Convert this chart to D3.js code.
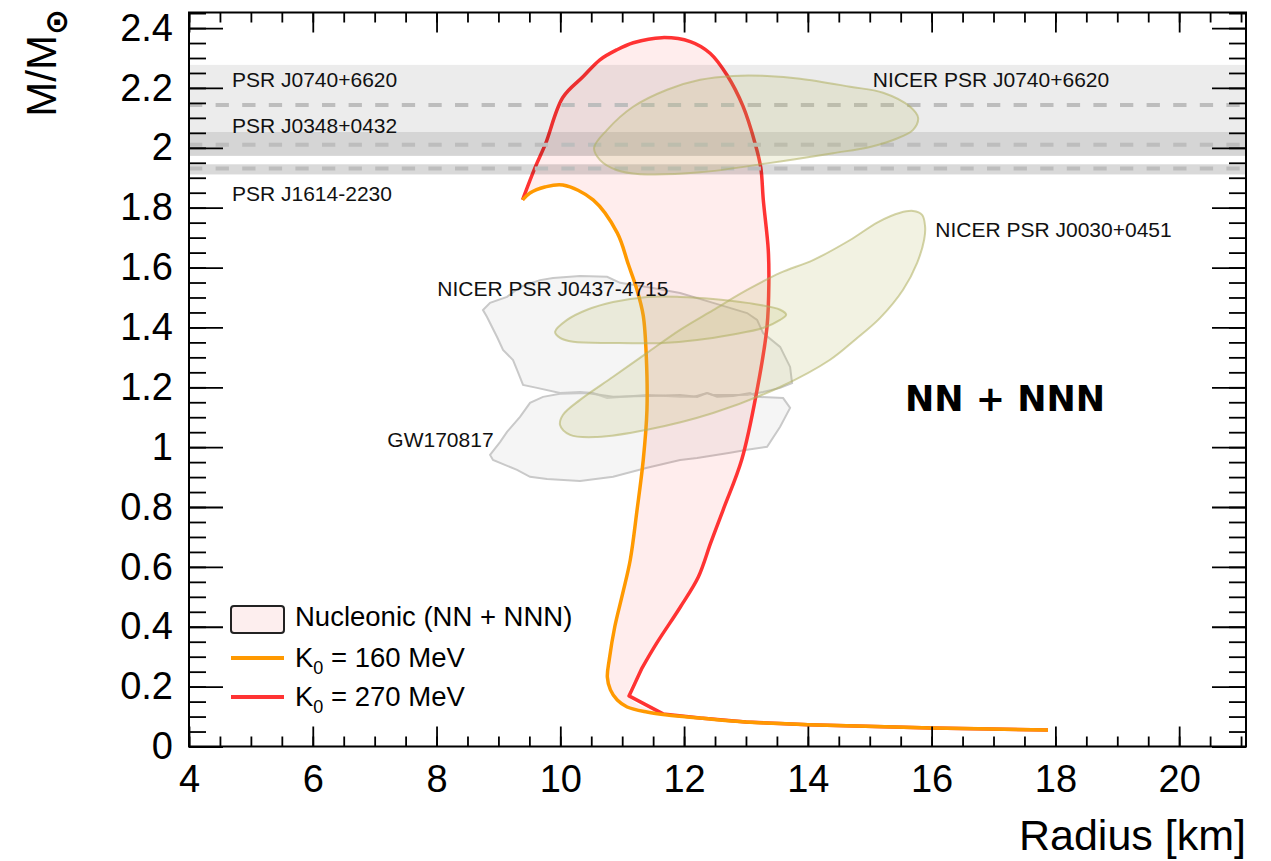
<!DOCTYPE html>
<html><head><meta charset="utf-8">
<script src="https://cdn.jsdelivr.net/npm/d3@7"></script>
<style>body{margin:0;background:#fff}</style>
</head><body>
<svg id="c" width="1271" height="861"></svg>
<script>
// ---------- DATA ----------
const xTicks = [4, 6, 8, 10, 12, 14, 16, 18, 20];
const yTicks = [0, 0.2, 0.4, 0.6, 0.8, 1, 1.2, 1.4, 1.6, 1.8, 2, 2.2, 2.4];
// Mass-radius curves [R km, M/Msun]
const k160 = [[17.88,0.055],[16.0,0.062],[14.0,0.073],[13.0,0.082],[12.26,0.095],[11.73,0.105],[11.40,0.115],[11.08,0.132],[10.92,0.155],[10.81,0.189],[10.76,0.232],[10.79,0.289],[10.88,0.40],[11.01,0.513],[11.13,0.623],[11.24,0.79],[11.34,0.957],[11.40,1.124],[11.39,1.30],[11.34,1.44],[11.24,1.525],[11.10,1.61],[10.92,1.716],[10.53,1.826],[10.04,1.876],[9.75,1.869],[9.51,1.849],[9.39,1.826]];
const k270 = [[17.88,0.055],[16.0,0.062],[14.0,0.073],[13.0,0.082],[12.26,0.095],[11.66,0.109],[11.11,0.169],[11.32,0.262],[11.56,0.346],[11.94,0.466],[12.23,0.566],[12.43,0.68],[12.63,0.79],[12.93,0.957],[13.17,1.181],[13.34,1.402],[13.37,1.55],[13.36,1.66],[13.28,1.826],[13.24,1.933],[13.15,2.013],[12.95,2.14],[12.69,2.244],[12.42,2.316],[12.10,2.355],[11.64,2.368],[11.18,2.351],[10.91,2.327],[10.64,2.294],[10.37,2.238],[10.04,2.168],[9.76,2.013],[9.59,1.933],[9.39,1.826]];
// Pulsar mass bands [lo, center, hi]
const bandNames = ["PSR J0740+6620", "PSR J0348+0432", "PSR J1614-2230"];
const bandLo = [2.053, 1.973, 1.911];
const bandMid = [2.143, 2.01, 1.931];
const bandHi = [2.277, 2.053, 1.945];
// Observational contours [R km, M/Msun]
const nicerJ0740 = [[10.545,2.000],[10.642,1.959],[10.917,1.925],[11.289,1.912],[12.259,1.918],[13.342,1.948],[14.408,1.982],[15.006,2.003],[15.378,2.026],[15.701,2.060],[15.782,2.100],[15.653,2.137],[15.216,2.184],[14.683,2.204],[13.875,2.231],[13.342,2.240],[12.792,2.240],[12.259,2.227],[11.725,2.194],[11.176,2.137],[10.756,2.060]];
const nicerJ0030 = [[15.491,1.783],[15.701,1.789],[15.846,1.776],[15.895,1.736],[15.879,1.693],[15.766,1.616],[15.539,1.526],[15.168,1.432],[14.764,1.359],[14.360,1.292],[13.552,1.201],[12.469,1.114],[11.402,1.058],[10.594,1.034],[10.158,1.041],[9.996,1.074],[10.044,1.108],[10.319,1.158],[10.853,1.235],[11.402,1.315],[11.935,1.392],[12.469,1.458],[13.018,1.525],[13.552,1.582],[14.085,1.625],[14.683,1.692],[15.135,1.752]];
const nicerJ0437 = [[9.915,1.385],[10.109,1.425],[10.432,1.459],[10.853,1.485],[11.402,1.502],[11.935,1.502],[12.469,1.495],[13.018,1.482],[13.552,1.459],[13.649,1.442],[13.552,1.425],[13.277,1.398],[12.743,1.375],[12.210,1.358],[11.661,1.348],[10.853,1.348],[10.206,1.352],[9.996,1.365]];
const gwUpper = [[8.751,1.458],[8.865,1.482],[9.139,1.502],[9.349,1.535],[9.673,1.558],[9.883,1.565],[10.319,1.572],[10.756,1.569],[10.966,1.549],[11.402,1.535],[11.935,1.515],[12.469,1.482],[13.018,1.448],[13.180,1.425],[13.277,1.381],[13.552,1.335],[13.713,1.268],[13.745,1.214],[13.552,1.198],[13.277,1.184],[13.018,1.174],[12.469,1.174],[12.372,1.181],[12.145,1.168],[11.935,1.168],[11.402,1.174],[10.756,1.164],[10.529,1.181],[10.319,1.184],[9.996,1.181],[9.624,1.198],[9.398,1.208],[9.301,1.258],[9.236,1.291],[9.075,1.325],[8.978,1.368],[8.816,1.435]];
const gwLower = [[9.721,1.168],[9.996,1.178],[10.432,1.181],[10.853,1.168],[11.402,1.171],[11.935,1.174],[12.210,1.168],[12.372,1.181],[12.534,1.168],[12.792,1.171],[13.067,1.181],[13.180,1.168],[13.600,1.164],[13.713,1.131],[13.552,1.068],[13.341,1.001],[13.018,0.991],[12.743,0.981],[12.210,0.964],[11.935,0.957],[11.661,0.944],[11.402,0.931],[10.853,0.901],[10.319,0.887],[9.786,0.894],[9.511,0.901],[9.301,0.924],[8.913,0.957],[8.865,0.974],[9.026,1.017],[9.139,1.051],[9.349,1.101],[9.511,1.148]];
// Text labels [text, R, M]
const contourLabels = [["NICER PSR J0740+6620",15.05,2.2025],["NICER PSR J0030+0451",16.06,1.701],["NICER PSR J0437-4715",8.013,1.505],["GW170817",7.205,1.002]];
const legendLabels = ["Nucleonic (NN + NNN)", "160", "270"];

// ---------- CHART ----------
const svg = d3.select("#c");
const FONT = "'Liberation Sans', Arial, Helvetica, sans-serif";
const L = 189, R = 1246, T = 12.5, B = 746.5;
const x = d3.scaleLinear().domain([4, 21.08]).range([L, R]);
const y = d3.scaleLinear().domain([0, 2.452]).range([B, T]);

const clip = svg.append("defs").append("clipPath").attr("id","pc");
clip.append("rect").attr("x",L).attr("y",T).attr("width",R-L).attr("height",B-T);
const plot = svg.append("g").attr("clip-path","url(#pc)");

const smooth = d3.line().x(d=>x(d[0])).y(d=>y(d[1])).curve(d3.curveCatmullRom.alpha(0.5));
const linear = d3.line().x(d=>x(d[0])).y(d=>y(d[1])).curve(d3.curveLinear);
const closedSmooth = d3.line().x(d=>x(d[0])).y(d=>y(d[1])).curve(d3.curveCatmullRomClosed.alpha(0.5));
const closedLin = d3.line().x(d=>x(d[0])).y(d=>y(d[1])).curve(d3.curveLinearClosed);

// GW170817 gray contours
[gwUpper, gwLower].forEach(c => {
  plot.append("path").attr("d", closedLin(c))
    .attr("fill","rgba(225,225,225,0.35)").attr("stroke","#c9c9c9").attr("stroke-width",2);
});

// Pink band between curves
const band = k160.concat(k270.slice().reverse().slice(1));
plot.append("path").attr("d", smooth(band) + "Z")
  .attr("fill","rgba(255,0,0,0.07)").attr("stroke","none");

// curves (red: straight segments through the low-mass kink, smooth above)
const redPath = linear(k270.slice(0, 8)) + smooth(k270.slice(7)).replace(/^M/, "L");
plot.append("path").attr("d", redPath).attr("fill","none")
  .attr("stroke","#ff3333").attr("stroke-width",3.5).attr("stroke-linejoin","round");
plot.append("path").attr("d", smooth(k160)).attr("fill","none")
  .attr("stroke","#ff9900").attr("stroke-width",3.5).attr("stroke-linejoin","round");

// pulsar bands
const bandAlpha = [0.075, 0.165, 0.15];
bandNames.forEach((n,i) => {
  plot.append("rect").attr("x",L).attr("width",R-L)
    .attr("y", y(bandHi[i])).attr("height", y(bandLo[i]) - y(bandHi[i]))
    .attr("fill", `rgba(0,0,0,${bandAlpha[i]})`);
});
bandNames.forEach((n,i) => {
  plot.append("line").attr("x1",L).attr("x2",R).attr("y1",y(bandMid[i])).attr("y2",y(bandMid[i]))
    .attr("stroke","#bdbdbd").attr("stroke-width",4).attr("stroke-dasharray","13.3,13.3");
});

// NICER contours
[nicerJ0740, nicerJ0030, nicerJ0437].forEach(c => {
  plot.append("path").attr("d", closedSmooth(c))
    .attr("fill","rgba(190,190,110,0.2)").attr("stroke","rgba(175,175,95,0.55)").attr("stroke-width",2);
});

// band labels
const bandLabelY = [87.3, 132.7, 200.7];
bandNames.forEach((n,i) => {
  svg.append("text").attr("x",232).attr("y",bandLabelY[i]).text(n)
    .attr("font-family",FONT).attr("font-size",21).attr("fill","#111");
});
contourLabels.forEach(d => {
  svg.append("text").attr("x",x(d[1])).attr("y",y(d[2])).text(d[0])
    .attr("font-family",FONT).attr("font-size",21).attr("fill","#111");
});
svg.append("text").attr("x",905).attr("y",410.5).text("NN + NNN")
  .attr("font-family","'DejaVu Sans', sans-serif").attr("font-weight","bold").attr("font-size",35).attr("fill","#000");

// ---------- AXES ----------
const minorX = d3.range(4, 21.01, 0.5);
const minorY = d3.range(0, 2.451, 0.05);
function styleAxis(g){ g.select(".domain").remove(); g.selectAll("line").attr("stroke","#000").attr("stroke-width",1.8); }

svg.append("g").attr("transform",`translate(0,${B})`)
  .call(d3.axisBottom(x).tickValues(minorX).tickSize(-10).tickFormat("")).call(styleAxis);
svg.append("g").attr("transform",`translate(0,${B})`)
  .call(d3.axisBottom(x).tickValues(xTicks).tickSize(-20).tickPadding(19).tickFormat(d=>String(d)))
  .call(styleAxis)
  .call(g=>g.selectAll("text").attr("font-family",FONT).attr("font-size",38).attr("fill","#000"));
svg.append("g").attr("transform",`translate(0,${T})`)
  .call(d3.axisTop(x).tickValues(minorX).tickSize(-10).tickFormat("")).call(styleAxis);
svg.append("g").attr("transform",`translate(0,${T})`)
  .call(d3.axisTop(x).tickValues(xTicks).tickSize(-20).tickFormat("")).call(styleAxis);

svg.append("g").attr("transform",`translate(${L},0)`)
  .call(d3.axisLeft(y).tickValues(minorY).tickSize(-17).tickFormat("")).call(styleAxis);
svg.append("g").attr("transform",`translate(${L},0)`)
  .call(d3.axisLeft(y).tickValues(yTicks).tickSize(-34).tickPadding(16).tickFormat(d=>String(d)))
  .call(styleAxis)
  .call(g=>g.selectAll("text").attr("font-family",FONT).attr("font-size",38).attr("fill","#000"));
svg.append("g").attr("transform",`translate(${R},0)`)
  .call(d3.axisRight(y).tickValues(minorY).tickSize(-17).tickFormat("")).call(styleAxis);
svg.append("g").attr("transform",`translate(${R},0)`)
  .call(d3.axisRight(y).tickValues(yTicks).tickSize(-34).tickFormat("")).call(styleAxis);

svg.append("rect").attr("x",L).attr("y",T).attr("width",R-L).attr("height",B-T)
  .attr("fill","none").attr("stroke","#000").attr("stroke-width",2);

// axis titles
svg.append("text").attr("x",R).attr("y",850).attr("text-anchor","end")
  .attr("font-family",FONT).attr("font-size",43).attr("fill","#000").text("Radius [km]");
const yt = svg.append("text").attr("transform","translate(56,9) rotate(-90)").attr("text-anchor","end")
  .attr("font-family",FONT).attr("font-size",42).attr("fill","#000");
yt.append("tspan").text("M/M");
yt.append("tspan").attr("dy",11).attr("font-size",31).attr("font-weight","bold").attr("font-family","'DejaVu Sans', sans-serif").text("⊙");

// ---------- LEGEND ----------
svg.append("rect").attr("x",231).attr("y",606).attr("width",53).attr("height",27).attr("rx",3)
  .attr("fill","#fdeeee").attr("stroke","#222").attr("stroke-width",2);
svg.append("text").attr("x",295).attr("y",626).attr("font-family",FONT).attr("font-size",27.5).attr("fill","#000").text(legendLabels[0]);
const legCols = ["#ff9900", "#ff3333"];
const legY = [658, 697];
[1,2].forEach((k,i) => {
  svg.append("line").attr("x1",231).attr("x2",284).attr("y1",legY[i]).attr("y2",legY[i])
    .attr("stroke",legCols[i]).attr("stroke-width",4);
  const t = svg.append("text").attr("x",295).attr("y",legY[i]+9).attr("font-family",FONT).attr("font-size",27.5).attr("fill","#000");
  t.append("tspan").text("K");
  t.append("tspan").attr("dy",7).attr("font-size",18).text("0");
  t.append("tspan").attr("dy",-7).text(" = " + legendLabels[k] + " MeV");
});
</script>
</body></html>
